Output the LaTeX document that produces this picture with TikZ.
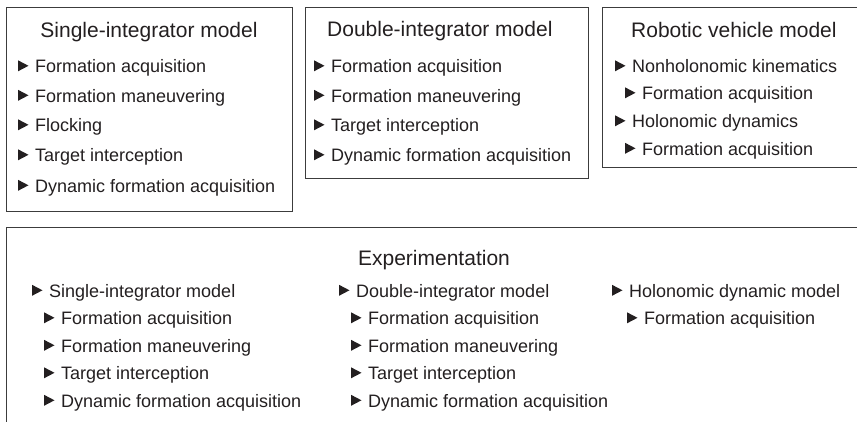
\documentclass[tikz,border=0pt]{standalone}
\usepackage{fontspec}
\setmainfont{Liberation Sans}
\usetikzlibrary{calc}
\definecolor{ink}{HTML}{231F20}
\definecolor{framec}{HTML}{3C3C3C}
\tikzset{
  box/.style={draw=framec, line width=1.3pt, anchor=north west, inner sep=0pt},
  ttl/.style={font=\fontsize{21}{25}\selectfont, text=ink, inner sep=0pt},
  itemtxt/.style={font=\fontsize{18}{22}\selectfont, text=ink, inner sep=0pt, anchor=base west},
}
\newcommand\itm[3]{%
  \node[itemtxt] (#1) at (#2) {#3};
  \fill[ink] ($(#1.base west)+(-17,-1.2)$) -- ++(0,-11) -- ++(10.5,5.5) -- cycle;}
\begin{document}
\begin{tikzpicture}[x=1pt,y=-1pt]
\useasboundingbox (0,0) rectangle (857,421);
% boxes
\node[box, minimum width=286pt, minimum height=204pt] (b1) at (6,7) {};
\node[box, minimum width=283pt, minimum height=171pt] (b2) at (305,7) {};
\node[box, minimum width=290pt, minimum height=160pt] (b3) at (602,7) {};
\node[box, minimum width=880pt, minimum height=250pt] (b4) at (6,227) {};
% box 1
\node[ttl, anchor=base] (t1) at (149,37) {Single-integrator model};
\itm{a1}{35,72.5}{Formation acquisition}
\itm{a2}{35,102}{Formation maneuvering}
\itm{a3}{35,131.5}{Flocking}
\itm{a4}{35,161.5}{Target interception}
\itm{a5}{35,192}{Dynamic formation acquisition}
% box 2
\node[ttl, anchor=base west] (t2) at (327,36) {Double-integrator model};
\itm{c1}{331,72.5}{Formation acquisition}
\itm{c2}{331,102}{Formation maneuvering}
\itm{c3}{331,131.5}{Target interception}
\itm{c4}{331,161.5}{Dynamic formation acquisition}
% box 3
\node[ttl, anchor=base west] (t3) at (631,37) {Robotic vehicle model};
\itm{r1}{632,72.5}{Nonholonomic kinematics}
\itm{r2}{642,99.5}{Formation acquisition}
\itm{r3}{632,127.5}{Holonomic dynamics}
\itm{r4}{642,155}{Formation acquisition}
% bottom
\node[ttl, anchor=base] (t4) at (434,265) {Experimentation};
\itm{e1}{49,297}{Single-integrator model}
\itm{e2}{61,324.5}{Formation acquisition}
\itm{e3}{61,352}{Formation maneuvering}
\itm{e4}{61,379.5}{Target interception}
\itm{e5}{61,407}{Dynamic formation acquisition}
\itm{f1}{356,297}{Double-integrator model}
\itm{f2}{368,324.5}{Formation acquisition}
\itm{f3}{368,352}{Formation maneuvering}
\itm{f4}{368,379.5}{Target interception}
\itm{f5}{368,407}{Dynamic formation acquisition}
\itm{g1}{629,297}{Holonomic dynamic model}
\itm{g2}{644,324.5}{Formation acquisition}
\end{tikzpicture}
\end{document}
